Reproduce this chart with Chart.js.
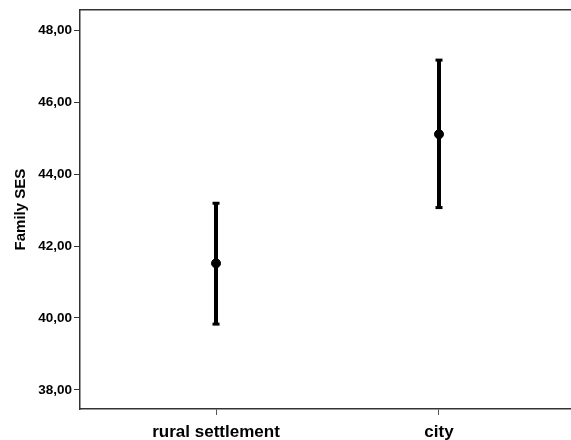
<!DOCTYPE html>
<html>
<head>
<meta charset="utf-8">
<script src="https://cdn.jsdelivr.net/npm/chart.js@4/dist/chart.umd.min.js"></script>
<style>
  html, body { margin: 0; padding: 0; background: #fff; }
  #wrap { width: 571px; height: 440px; position: relative; }
</style>
</head>
<body>
<div id="wrap"><canvas id="errChart"></canvas></div>
<script>
const CATEGORIES = ['rural settlement', 'city'];
const MEANS      = [41.52, 45.11];
const LOWER      = [39.83, 43.07];
const UPPER      = [43.19, 47.17];
const Y_TICKS    = [38, 40, 42, 44, 46, 48];
const Y_TITLE    = 'Family SES';

const AXIS_COLOR = '#333333';
const FONT       = "'Liberation Sans', Arial, sans-serif";
const X_MIN = -0.61, X_MAX = 1.592;

// error bars: one line dataset per category, caps drawn as 'line' points
const barSets = CATEGORIES.map((c, i) => ({
  type:             'line',
  data:             [{ x: i, y: LOWER[i] }, { x: i, y: UPPER[i] }],
  borderColor:      '#000',
  borderWidth:      4,
  pointStyle:       'line',
  pointRadius:      3.5,
  pointBorderWidth: 3,
  pointBorderColor: '#000',
  fill:             false,
  order:            1,
}));

const meanSet = {
  type:            'scatter',
  data:            MEANS.map((m, i) => ({ x: i, y: m })),
  pointRadius:     4.5,
  backgroundColor: '#000',
  borderColor:     '#000',
  order:           0,
};

// keep the plot flush with the right edge, as in the original
const noSidePad = (s, h) => { s.height = h; s.paddingLeft = 0; s.paddingRight = 0; };

new Chart(document.getElementById('errChart'), {
  data: { datasets: [meanSet, ...barSets] },
  options: {
    responsive:          true,
    maintainAspectRatio: false,
    animation:           false,
    layout:              { padding: 0, autoPadding: false },
    plugins: {
      legend:  { display: false },
      tooltip: { enabled: false },
    },
    scales: {
      x: {
        type: 'linear',
        position: 'bottom',
        min: X_MIN,
        max: X_MAX,
        afterBuildTicks: (s) => { s.ticks = CATEGORIES.map((c, i) => ({ value: i })); },
        afterFit: (s) => noSidePad(s, 31),
        grid:   { drawOnChartArea: false, drawTicks: true, tickLength: 6, color: '#555' },
        border: { display: true, color: AXIS_COLOR, width: 1.5 },
        ticks: {
          color: '#000',
          padding: 7,
          maxRotation: 0,
          font: { family: FONT, size: 17, weight: 'bold' },
          callback: (v) => CATEGORIES[v] ?? '',
        },
      },
      xTop: {
        type: 'linear',
        position: 'top',
        min: X_MIN,
        max: X_MAX,
        afterFit: (s) => noSidePad(s, 10),
        grid:   { drawOnChartArea: false, drawTicks: false },
        border: { display: true, color: AXIS_COLOR, width: 1.5 },
        ticks:  { display: false },
      },
      y: {
        type: 'linear',
        min: 37.47,
        max: 48.56,
        afterBuildTicks: (s) => { s.ticks = Y_TICKS.map(v => ({ value: v })); },
        afterFit: (s) => { s.width = 80; },
        grid:   { drawOnChartArea: false, drawTicks: true, tickLength: 6, color: AXIS_COLOR },
        border: { display: true, color: AXIS_COLOR, width: 1.5 },
        ticks: {
          color: '#000',
          padding: 2,
          font: { family: FONT, size: 13.5, weight: 'bold' },
          callback: (v) => v.toFixed(2).replace('.', ','),
        },
        title: {
          display: true,
          text: Y_TITLE,
          color: '#000',
          padding: { top: 12, bottom: 0 },
          font: { family: FONT, size: 15, weight: 'bold' },
        },
      },
    },
  },
});
</script>
</body>
</html>
